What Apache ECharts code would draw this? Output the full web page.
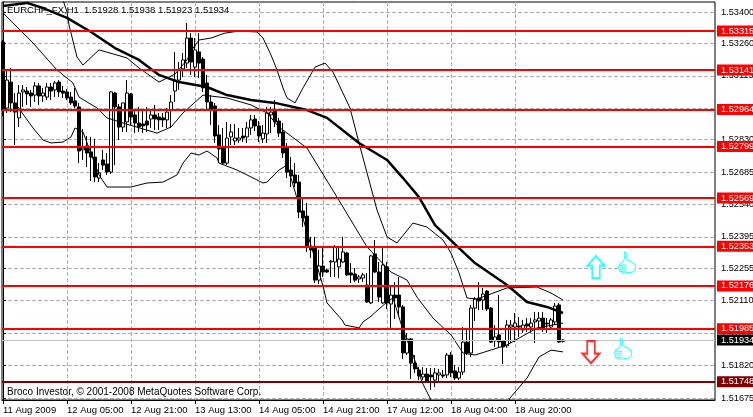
<!DOCTYPE html>
<html>
<head>
<meta charset="utf-8">
<style>html,body{margin:0;padding:0;background:#fff;overflow:hidden}#c{width:753px;height:417px}</style>
<script src="https://cdn.jsdelivr.net/npm/echarts@6/dist/echarts.min.js"></script>
</head>
<body>
<div id="c"></div>
<script>
const opens=[1.53266,1.52971,1.53087,1.52994,1.52927,1.53043,1.53047,1.53038,1.53029,1.53070,1.53025,1.53020,1.53065,1.53052,1.53087,1.53047,1.53043,1.53020,1.53003,1.52976,
1.52784,1.52801,1.52775,1.52752,1.52658,1.52739,1.52721,1.52685,1.53038,1.52976,1.52886,1.52909,1.53034,1.52940,1.52904,1.52900,1.52913,1.52922,1.52940,1.52931,
1.52927,1.52918,1.52962,1.53047,1.53096,1.53146,1.53172,1.53284,1.53154,1.53222,1.53190,1.53083,1.52998,1.52980,1.52851,1.52792,1.52725,1.52842,1.52824,1.52828,
1.52846,1.52842,1.52882,1.52922,1.52891,1.52833,1.52855,1.52940,1.52962,1.52913,1.52864,1.52792,1.52694,1.52672,1.52640,1.52511,1.52488,1.52350,1.52345,1.52202,
1.52265,1.52247,1.52283,1.52283,1.52261,1.52283,1.52323,1.52234,1.52229,1.52207,1.52211,1.52180,1.52100,1.52319,1.52238,1.52100,1.52261,1.52095,1.52135,1.52135,
1.52082,1.51876,1.51939,1.51831,1.51800,1.51769,1.51782,1.51778,1.51755,1.51778,1.51778,1.51778,1.51867,1.51796,1.51764,1.51791,1.51925,1.51876,1.52077,1.52122,
1.52113,1.52153,1.52077,1.51930,1.51957,1.51930,1.51908,1.51992,1.51992,1.51997,1.51979,1.52006,1.51992,1.52015,1.52019,1.52032,1.52010,1.51992,1.52015,1.52091,1.51928];
const highs=[1.53275,1.53141,1.53150,1.53038,1.53074,1.53074,1.53065,1.53052,1.53087,1.53083,1.53061,1.53083,1.53083,1.53092,1.53096,1.53070,1.53056,1.53043,1.53061,1.52994,
1.52877,1.52846,1.52842,1.52833,1.52725,1.52784,1.52770,1.53047,1.53043,1.52989,1.52994,1.53096,1.53038,1.52962,1.52976,1.52962,1.52976,1.52962,1.52985,1.52949,
1.52949,1.52971,1.53029,1.53222,1.53177,1.53217,1.53351,1.53306,1.53284,1.53306,1.53199,1.53119,1.53029,1.52994,1.52895,1.52882,1.52909,1.52900,1.52900,1.52882,
1.52882,1.52909,1.52940,1.52940,1.52913,1.52895,1.52976,1.52976,1.53007,1.52927,1.52904,1.52815,1.52752,1.52725,1.52672,1.52569,1.52547,1.52395,1.52395,1.52337,
1.52350,1.52252,1.52292,1.52359,1.52350,1.52395,1.52328,1.52278,1.52256,1.52225,1.52234,1.52234,1.52314,1.52381,1.52283,1.52350,1.52283,1.52180,1.52193,1.52216,
1.52091,1.51966,1.51943,1.51867,1.51813,1.51813,1.51809,1.51809,1.51809,1.51805,1.51800,1.51876,1.51881,1.51822,1.51813,1.51992,1.51988,1.52091,1.52126,1.52193,
1.52167,1.52158,1.52082,1.52001,1.52135,1.51934,1.52024,1.52024,1.52055,1.52037,1.52024,1.52032,1.52032,1.52059,1.52059,1.52059,1.52032,1.52032,1.52100,1.52100,1.51938];
const lows=[1.52935,1.52949,1.52953,1.52806,1.52886,1.52976,1.52985,1.52976,1.52998,1.52985,1.52998,1.53007,1.53007,1.53020,1.53020,1.53016,1.53007,1.52985,1.52971,1.52725,
1.52739,1.52707,1.52645,1.52640,1.52640,1.52694,1.52672,1.52676,1.52716,1.52828,1.52864,1.52864,1.52895,1.52859,1.52864,1.52859,1.52864,1.52882,1.52873,1.52873,
1.52886,1.52882,1.52882,1.52998,1.53052,1.53110,1.53150,1.53119,1.53110,1.53105,1.53043,1.52962,1.52895,1.52815,1.52725,1.52716,1.52716,1.52806,1.52806,1.52815,
1.52819,1.52815,1.52851,1.52868,1.52819,1.52815,1.52815,1.52859,1.52886,1.52842,1.52748,1.52658,1.52618,1.52618,1.52479,1.52439,1.52328,1.52301,1.52189,1.52185,
1.52216,1.52234,1.52216,1.52216,1.52211,1.52278,1.52220,1.52189,1.52193,1.52189,1.52193,1.52100,1.52095,1.52234,1.52104,1.52095,1.52073,1.51988,1.52028,1.52037,
1.51849,1.51867,1.51760,1.51787,1.51755,1.51755,1.51746,1.51711,1.51724,1.51742,1.51764,1.51764,1.51769,1.51755,1.51755,1.51778,1.51867,1.51858,1.52019,1.52068,
1.52068,1.52064,1.51921,1.51903,1.51899,1.51827,1.51899,1.51921,1.51925,1.51948,1.51966,1.51970,1.51966,1.51921,1.51988,1.51970,1.51966,1.51988,1.52001,1.51921,1.51923];
const closes=[1.52962,1.53096,1.52994,1.52953,1.53038,1.53052,1.53034,1.53025,1.53070,1.53025,1.53038,1.53065,1.53047,1.53083,1.53043,1.53038,1.53016,1.52994,1.52980,1.52779,
1.52792,1.52770,1.52752,1.52663,1.52681,1.52716,1.52685,1.53043,1.52976,1.52886,1.52994,1.53038,1.52931,1.52904,1.52886,1.52891,1.52895,1.52940,1.52922,1.52918,
1.52918,1.52953,1.52998,1.53096,1.53141,1.53186,1.53284,1.53177,1.53231,1.53172,1.53061,1.52998,1.52967,1.52846,1.52788,1.52725,1.52837,1.52864,1.52837,1.52837,
1.52837,1.52882,1.52918,1.52891,1.52846,1.52859,1.52949,1.52953,1.52909,1.52859,1.52770,1.52685,1.52667,1.52636,1.52506,1.52479,1.52350,1.52337,1.52202,1.52265,
1.52238,1.52238,1.52287,1.52350,1.52296,1.52328,1.52225,1.52225,1.52202,1.52216,1.52225,1.52104,1.52310,1.52238,1.52126,1.52269,1.52100,1.52135,1.52122,1.52082,
1.51876,1.51939,1.51831,1.51805,1.51773,1.51782,1.51751,1.51769,1.51787,1.51787,1.51773,1.51867,1.51787,1.51764,1.51791,1.51925,1.51876,1.52077,1.52117,1.52109,
1.52140,1.52073,1.51925,1.51948,1.51925,1.51903,1.52001,1.52001,1.52010,1.51992,1.52001,1.51997,1.52010,1.52024,1.52032,1.51988,1.52006,1.52024,1.52086,1.51925,1.51934];

const maLine=[[0,1.53427],[6,1.53441],[10,1.53418],[16,1.53374],[22,1.53311],[28,1.53239],[34,1.53186],[39,1.53119],[44,1.53087],[51,1.53065],[56,1.53029],[62,1.53007],[68,1.52994],[76,1.52962],[81,1.52927],[89,1.52815],[96,1.52739],[100,1.52658],[104,1.52573],[108,1.52448],[114,1.52345],[118,1.52278],[126,1.52180],[131,1.52104],[136,1.52082],[140,1.52055]];
const upperBand=[[15,1.53454],[16,1.53400],[16.5,1.53342],[18.5,1.53199],[20,1.53163],[24,1.53231],[31,1.53195],[34,1.53150],[39,1.53087],[43,1.53123],[46,1.53186],[47.5,1.53239],[49,1.53275],[52,1.53284],[55.5,1.53306],[59,1.53315],[63.5,1.53311],[65,1.53284],[67,1.53208],[68.5,1.53141],[70,1.53061],[71,1.53016],[73,1.52994],[75,1.53061],[78,1.53154],[80.5,1.53172],[82.5,1.53132],[86.75,1.52971],[89,1.52815],[93.5,1.52515],[96,1.52395],[98.5,1.52368],[102.5,1.52457],[106,1.52439],[110,1.52381],[112,1.52323],[114,1.52234],[116,1.52122],[118.5,1.52117],[126,1.52167],[133.5,1.52171],[137,1.52144],[140,1.52113]];
const midBand=[[0,1.53396],[7.5,1.53262],[13.5,1.53141],[17.5,1.53083],[19,1.53020],[23.5,1.52971],[26,1.52927],[30,1.52904],[38.5,1.52859],[42,1.52886],[45,1.52949],[50,1.53029],[56,1.53016],[62,1.52985],[66,1.52949],[69,1.52886],[76,1.52792],[83.5,1.52573],[91,1.52350],[97,1.52238],[101,1.52202],[103.5,1.52126],[107.5,1.52032],[112,1.51957],[115,1.51876],[118,1.51867],[126,1.51912],[133.5,1.51988],[140,1.52010]];
const lowerBand=[[3.75,1.52976],[5.5,1.52931],[7.5,1.52882],[10,1.52828],[12,1.52815],[15,1.52819],[17,1.52842],[18,1.52882],[20,1.52864],[24,1.52672],[26,1.52618],[32,1.52618],[36,1.52636],[40,1.52640],[43.5,1.52672],[45,1.52725],[47,1.52770],[49,1.52761],[51,1.52779],[53.5,1.52748],[54,1.52725],[58.5,1.52694],[62,1.52663],[65,1.52636],[66,1.52640],[69,1.52694],[71,1.52716],[72,1.52658],[80,1.52176],[81,1.52100],[84.75,1.52024],[85.5,1.52001],[89,1.51988],[90,1.52015],[91.75,1.52037],[96,1.52104],[97.5,1.52122],[100,1.51979],[102.5,1.51867],[104.75,1.51746],[106.75,1.51675],[108,1.51590],[117,1.51487],[125.5,1.51590],[126.75,1.51675],[131,1.51764],[134,1.51858],[137,1.51889],[140,1.51881]];

const redLevels=[1.53315,1.53141,1.52964,1.52799,1.52569,1.52353,1.52176,1.51985];
const darkLevel=1.51748;
const lastPrice=1.51934;
const yTicks=[1.53400,1.53260,1.53115,1.52970,1.52830,1.52685,1.52540,1.52395,1.52255,1.52110,1.51965,1.51820,1.51675];
const xLabels=['11 Aug 2009','12 Aug 05:00','12 Aug 21:00','13 Aug 13:00','14 Aug 05:00','14 Aug 21:00','17 Aug 12:00','18 Aug 04:00','18 Aug 20:00'];
const xLabelBars=[0,16,32,48,64,80,96,112,128];
const xGridBars=[0,8,16,24,32,40,48,56,64,72,80,88,96,104,112,120,128,136,144,152,160,168,176];
const upArrow=[[148.25,1.52260]];
const downArrow=[[147,1.51880]];
const thumbs=[[156,1.52280],[155,1.51895]];
const titleText='EURCHF_FX,H1  1.51928 1.51938 1.51923 1.51934';
const copyrightText='Broco Investor, \u00A9 2001-2008 MetaQuotes Software Corp.';

const FONT='"Liberation Sans", sans-serif';
const GRID_COLOR='#b0b0b0';
const ohlc=opens.map((o,i)=>[i,o,closes[i],lows[i],highs[i]]);
const levelItem=(v,color,bg,w)=>({yAxis:v,lineStyle:{color:color,width:w,type:'solid'},label:{backgroundColor:bg}});
const thinLine=(d)=>({type:'line',data:d,showSymbol:false,symbol:'none',z:3,lineStyle:{color:'#000',width:1},silent:true});
const upPath='path://M9 0 L18 10 L13 10 L13 23 L5 23 L5 10 L0 10 Z';
const downPath='path://M5 0 L13 0 L13 13 L18 13 L9 23 L0 13 L5 13 Z';
const thumbPath='path://M6 0 L8 1 L8 6 L9 8 L14 10 L17 13 L17 17 L14 20 L5 21 L1 19 L0 15 L1 12 L4 10 L6 7 Z M1 13 L8 13 M1 15 L8 15 M1 17 L8 17 M2 19 L8 19';

const chart=echarts.init(document.getElementById('c'),null,{renderer:'canvas'});
chart.setOption({
  animation:false,
  backgroundColor:'#fff',
  title:[
    {text:titleText,left:2,top:0,textStyle:{fontFamily:FONT,fontSize:9.5,fontWeight:'normal',color:'#000'}},
    {text:copyrightText,left:2,top:382,textStyle:{fontFamily:FONT,fontSize:10,fontWeight:'normal',color:'#000'}}
  ],
  grid:{left:2,right:38,top:2,bottom:17,show:true,backgroundColor:'#fff',borderColor:'#000',borderWidth:1,outerBoundsMode:'none'},
  xAxis:{type:'value',min:-0.25,max:178,
    axisLine:{show:true,lineStyle:{color:'#000'}},
    axisTick:{show:true,length:4,customValues:xLabelBars,lineStyle:{color:'#000'}},
    axisLabel:{customValues:xLabelBars,align:'left',margin:5,hideOverlap:false,showMinLabel:true,showMaxLabel:true,fontFamily:FONT,fontSize:9.5,color:'#000',
      formatter:v=>xLabels[xLabelBars.indexOf(v)]||''},
    splitLine:{show:true,customValues:xGridBars,lineStyle:{color:GRID_COLOR,type:'dashed',width:1}}},
  yAxis:{type:'value',position:'right',min:1.51666,max:1.53445,
    axisLine:{show:true,lineStyle:{color:'#000'}},
    axisTick:{show:true,length:3,customValues:yTicks,lineStyle:{color:'#000'}},
    axisLabel:{customValues:yTicks,align:'left',margin:6,hideOverlap:false,showMinLabel:true,showMaxLabel:true,fontFamily:FONT,fontSize:9.2,color:'#000',
      formatter:v=>v.toFixed(5)},
    splitLine:{show:true,customValues:yTicks,lineStyle:{color:GRID_COLOR,type:'dashed',width:1}}},
  series:[
    {type:'candlestick',data:ohlc,barWidth:3,z:2,silent:true,encode:{x:0,y:[1,2,3,4]},
      itemStyle:{color:'#fff',color0:'#000',borderColor:'#000',borderColor0:'#000',borderWidth:1}},
    thinLine(upperBand),thinLine(midBand),thinLine(lowerBand),
    {type:'line',data:maLine,showSymbol:false,symbol:'none',z:4,silent:true,lineStyle:{color:'#000',width:2.5}},
    {type:'line',data:[],z:6,silent:true,
      markLine:{silent:true,symbol:'none',animation:false,precision:5,
        label:{show:true,position:'end',distance:2,formatter:p=>p.value.toFixed(5),color:'#fff',fontFamily:FONT,fontSize:9.2,lineHeight:11,padding:[0,12,0,4]},
        data:[levelItem(lastPrice,'#c0c0c0','#000',1)]
          .concat(redLevels.map(v=>levelItem(v,'#ff0000','#ff0000',2)))
          .concat([levelItem(darkLevel,'#7f0000','#7f0000',2)])}},
    {type:'scatter',data:upArrow,symbol:upPath,symbolSize:[17,22],z:5,silent:true,itemStyle:{color:'#fff',borderColor:'#00ffff',borderWidth:2}},
    {type:'scatter',data:downArrow,symbol:downPath,symbolSize:[17,22],z:5,silent:true,itemStyle:{color:'#fff',borderColor:'#ff0000',borderWidth:2}},
    {type:'scatter',data:thumbs,symbol:thumbPath,symbolSize:[17,21],z:5,silent:true,itemStyle:{color:'#fff',borderColor:'#00ffff',borderWidth:1}}
  ]
});
</script>
</body>
</html>
